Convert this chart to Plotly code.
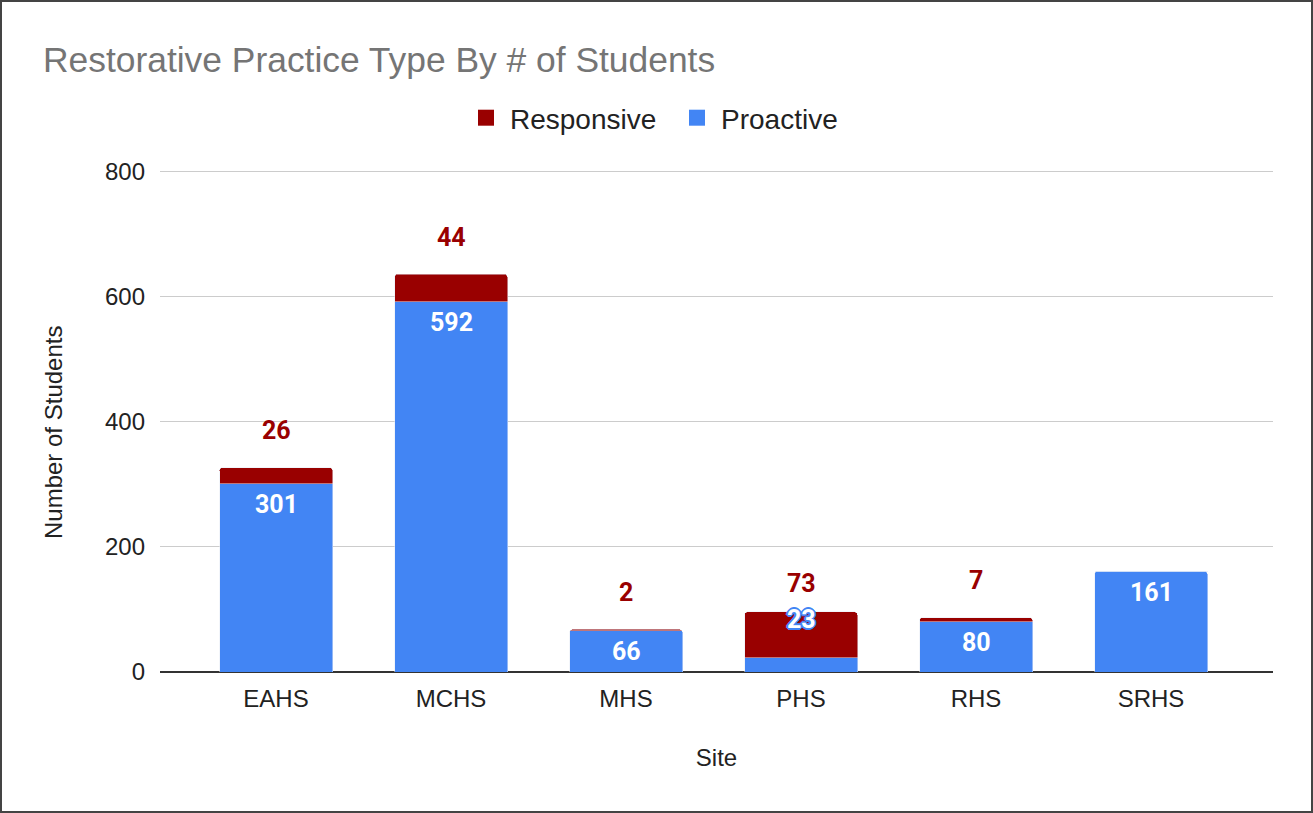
import plotly.graph_objects as go

sites = ["EAHS", "MCHS", "MHS", "PHS", "RHS", "SRHS"]
proactive = [301, 592, 66, 23, 80, 161]
responsive = [26, 44, 2, 73, 7, 0]
yticks = [0, 200, 400, 600, 800]

BLUE = "#4285F4"
RED = "#990000"

W, H = 1313, 813
px_per_unit = 500 / 800
ymax = 806
ML, MR, MB = 160, 40, 141
MT = round(H - MB - ymax * px_per_unit)
PW, PH = W - ML - MR, H - MT - MB


def px_x(px):
    return (px - ML) / PW


def px_y(py):
    return (H - MB - py) / PH


fig = go.Figure()
fig.add_trace(go.Bar(x=sites, y=proactive, name="Proactive", marker_color=BLUE,
                     showlegend=False))
fig.add_trace(go.Bar(x=sites, y=responsive, name="Responsive", marker_color=RED,
                     showlegend=False))

# legend-only entries with larger squares
fig.add_trace(go.Scatter(x=[None], y=[None], mode="markers", name="Proactive",
                         marker=dict(symbol="square", size=18, color=BLUE)))
fig.add_trace(go.Scatter(x=[None], y=[None], mode="markers", name="Responsive",
                         marker=dict(symbol="square", size=18, color=RED)))

annotations = []
label_font = dict(family="Roboto", size=25, weight="bold")
shadow = ", ".join(f"{dx}px {dy}px 0 {BLUE}" for dx, dy in
                   [(-1, -1), (1, -1), (-1, 1), (1, 1), (0, 2), (2, 0), (-2, 0), (0, -2)])
for s, p, r in zip(sites, proactive, responsive):
    total = p + r
    fits = p * px_per_unit >= 30
    if fits:
        annotations.append(dict(x=s, y=p, yshift=-21, text=str(p), showarrow=False,
                                font=dict(label_font, color="white")))
    else:
        annotations.append(dict(x=s, y=total, yshift=-8, text=str(p), showarrow=False,
                                font=dict(label_font, color="white", shadow=shadow)))
    if r > 0:
        annotations.append(dict(x=s, y=total, yshift=37 if fits else 28,
                                text=str(r), showarrow=False,
                                font=dict(label_font, color=RED)))

# y-axis title
annotations.append(dict(text="Number of Students", xref="paper", yref="paper",
                        x=px_x(53), y=px_y(433), showarrow=False, textangle=-90,
                        xanchor="center", yanchor="middle",
                        font=dict(family="Liberation Sans, Arial", size=24, color="#222222")))

fig.update_layout(
    width=W, height=H,
    margin=dict(l=ML, r=MR, t=MT, b=MB),
    paper_bgcolor="white", plot_bgcolor="white",
    barmode="stack", bargap=0.354, barcornerradius=3,
    font=dict(family="Liberation Sans, Arial", size=24, color="#222222"),
    title=dict(text="Restorative Practice Type By # of Students",
               x=43 / W, xanchor="left", y=1 - 60 / H, yanchor="middle",
               font=dict(family="Liberation Sans, Arial", size=35.4, color="#757575")),
    legend=dict(orientation="h", x=px_x(474 - 12), xanchor="left",
                y=px_y(118), yanchor="middle",
                traceorder="reversed", font=dict(size=28, color="#222222"),
                itemwidth=38, entrywidth=158, entrywidthmode="pixels"),
    xaxis=dict(range=[-0.663, 5.697], showgrid=False, ticks="", ticklabelstandoff=10,
               title=dict(text="Site", standoff=38, font=dict(size=24)),
               tickfont=dict(size=24, color="#222222")),
    yaxis=dict(range=[0, ymax], tickvals=yticks, showgrid=True,
               gridcolor="#cccccc", gridwidth=1, zeroline=True, zerolinecolor="#333333",
               zerolinewidth=1.5, ticklabelstandoff=14,
               tickfont=dict(size=24, color="#222222")),
    annotations=annotations,
    shapes=[dict(type="rect", xref="paper", yref="paper",
                 x0=px_x(1), x1=px_x(W - 1), y0=px_y(H - 1), y1=px_y(1),
                 line=dict(color="#444444", width=2), fillcolor="rgba(0,0,0,0)")],
)

fig.write_html("out.html", config={"displayModeBar": False},
               post_script="document.body.style.margin='0';document.body.style.overflow='hidden';")
